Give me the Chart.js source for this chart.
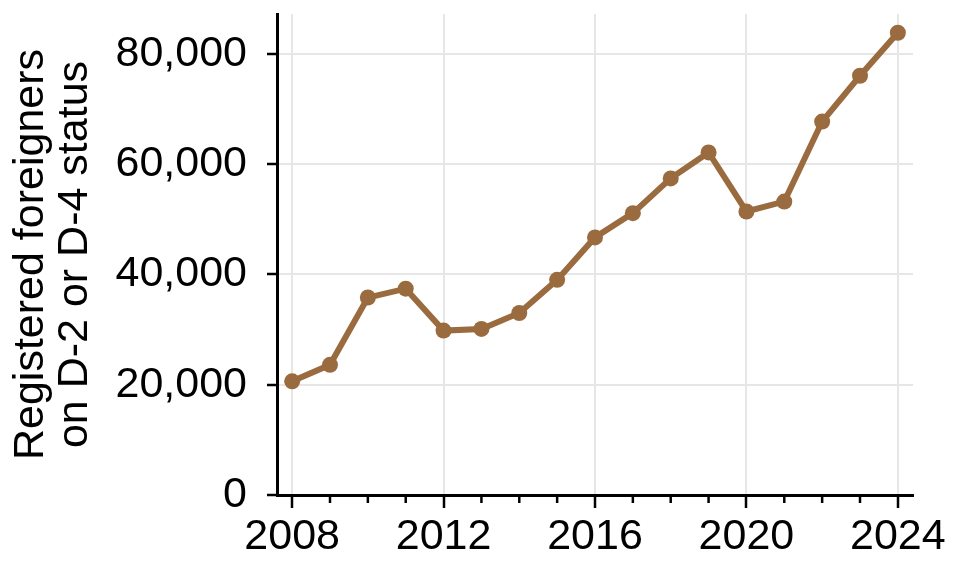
<!DOCTYPE html>
<html lang="en">
<head>
    <meta charset="UTF-8">
    <title>Registered foreigners on D-2 or D-4 status</title>
    <script src="https://cdn.jsdelivr.net/npm/chart.js"></script>
    <style>
        html, body { margin: 0; padding: 0; background: #fff; }
        #wrap { width: 962px; height: 576px; }
    </style>
</head>
<body>
    <div id="wrap"><canvas id="foreignersChart" width="962" height="576"></canvas></div>

    <script>
        // Data
        const years = [2008, 2009, 2010, 2011, 2012, 2013, 2014, 2015, 2016,
                       2017, 2018, 2019, 2020, 2021, 2022, 2023, 2024];
        const registered = [20600, 23600, 35800, 37400, 29800, 30100, 33000, 39000, 46700,
                            51100, 57400, 62100, 51400, 53200, 67700, 76000, 83800];
        const majorYears = [2008, 2012, 2016, 2020, 2024];
        const yTicks = [0, 20000, 40000, 60000, 80000];

        const lineColor = '#9a6b3f';
        const gridColor = '#e6e6e6';
        const fontFamily = '"Liberation Sans", Arial, sans-serif';

        // small ticks for the in-between years
        const minorTicks = {
            id: 'minorTicks',
            afterDraw(chart) {
                const x = chart.scales.x;
                const c = chart.ctx;
                c.save();
                c.strokeStyle = '#000';
                c.lineWidth = 2.5;
                years.forEach(yr => {
                    if (majorYears.includes(yr)) return;
                    const px = x.getPixelForValue(yr);
                    c.beginPath();
                    c.moveTo(px, x.top);
                    c.lineTo(px, x.top + 8);
                    c.stroke();
                });
                c.restore();
            }
        };

        const ctx = document.getElementById('foreignersChart').getContext('2d');

        new Chart(ctx, {
            type: 'line',
            data: {
                datasets: [{
                    data: years.map((yr, i) => ({ x: yr, y: registered[i] })),
                    borderColor: lineColor,
                    backgroundColor: lineColor,
                    borderWidth: 6,
                    pointRadius: 8,
                    pointHoverRadius: 8,
                    pointBorderWidth: 0,
                    tension: 0,
                    fill: false,
                }]
            },
            options: {
                responsive: false,
                animation: false,
                devicePixelRatio: 1,
                layout: { padding: { left: 9, right: 49, top: 14, bottom: 0 } },
                plugins: {
                    legend: { display: false },
                    tooltip: { enabled: false }
                },
                scales: {
                    x: {
                        type: 'linear',
                        min: 2007.6,
                        max: 2024.4,
                        afterBuildTicks: scale => {
                            scale.ticks = majorYears.map(v => ({ value: v }));
                        },
                        afterFit: scale => {
                            scale.height = 81;
                            scale.paddingLeft = 0;
                            scale.paddingRight = 0;
                        },
                        ticks: {
                            includeBounds: false,
                            autoSkip: false,
                            maxRotation: 0,
                            padding: 3,
                            color: '#000',
                            font: { family: fontFamily, size: 43 },
                            callback: v => String(v)
                        },
                        grid: {
                            color: gridColor,
                            lineWidth: 2,
                            tickColor: '#000',
                            tickWidth: 2.5,
                            tickLength: 13
                        },
                        border: { color: '#000', width: 3 }
                    },
                    y: {
                        min: 0,
                        max: 87200,
                        afterBuildTicks: scale => {
                            scale.ticks = yTicks.map(v => ({ value: v }));
                        },
                        afterFit: scale => {
                            scale.width = 268;
                            scale.paddingTop = 0;
                            scale.paddingBottom = 0;
                        },
                        ticks: {
                            includeBounds: false,
                            padding: 20,
                            color: '#000',
                            font: { family: fontFamily, size: 43 },
                            callback: v => v.toLocaleString('en-US')
                        },
                        grid: {
                            color: gridColor,
                            lineWidth: 2,
                            tickColor: '#000',
                            tickWidth: 2.5,
                            tickLength: 10
                        },
                        border: { color: '#000', width: 3 },
                        title: {
                            display: true,
                            text: ['Registered foreigners', 'on D-2 or D-4 status'],
                            color: '#000',
                            padding: { top: 0, bottom: 0 },
                            font: { family: fontFamily, size: 43, lineHeight: '44px' }
                        }
                    }
                }
            },
            plugins: [minorTicks]
        });
    </script>
</body>
</html>
